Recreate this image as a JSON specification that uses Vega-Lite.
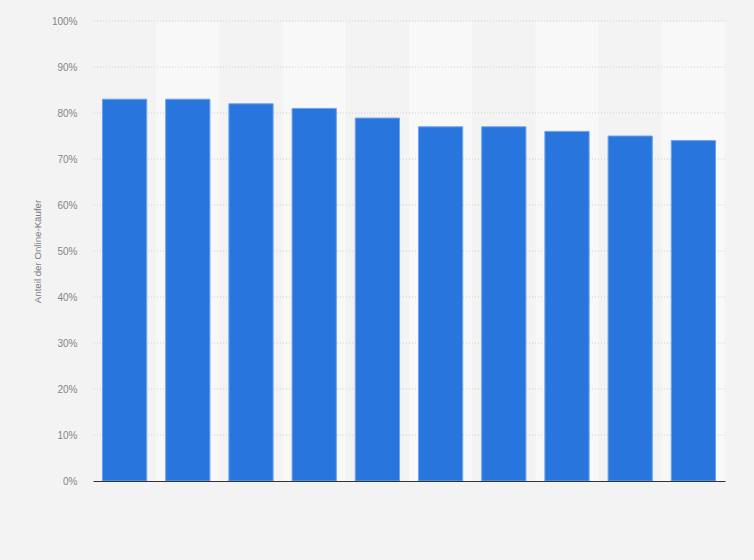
{
  "$schema": "https://vega.github.io/schema/vega-lite/v6.json",
  "width": 632,
  "height": 460,
  "autosize": "none",
  "padding": {"left": 93, "top": 21, "right": 29, "bottom": 79},
  "background": "#f3f3f3",
  "config": {"view": {"stroke": null}, "font": "Liberation Sans"},
  "datasets": {
    "bars": [
      {"k": "1", "anteil": 0.83},
      {"k": "2", "anteil": 0.83},
      {"k": "3", "anteil": 0.82},
      {"k": "4", "anteil": 0.81},
      {"k": "5", "anteil": 0.789},
      {"k": "6", "anteil": 0.77},
      {"k": "7", "anteil": 0.77},
      {"k": "8", "anteil": 0.76},
      {"k": "9", "anteil": 0.75},
      {"k": "10", "anteil": 0.74}
    ],
    "grid": [
      {"v": 0.1}, {"v": 0.2}, {"v": 0.3}, {"v": 0.4}, {"v": 0.5},
      {"v": 0.6}, {"v": 0.7}, {"v": 0.8}, {"v": 0.9}, {"v": 1.0}
    ]
  },
  "layer": [
    {
      "data": {"name": "bars"},
      "mark": {"type": "rect"},
      "encoding": {
        "x": {
          "field": "k", "type": "nominal", "sort": null,
          "scale": {"type": "band", "paddingInner": 0, "paddingOuter": 0},
          "axis": null
        },
        "y": {"datum": 1, "type": "quantitative"},
        "y2": {"datum": 0},
        "color": {
          "condition": {"test": "indexof(['2','4','6','8','10'], datum.k) >= 0", "value": "#f8f8f8"},
          "value": "#f3f3f3"
        }
      }
    },
    {
      "data": {"name": "grid"},
      "mark": {"type": "rule", "color": "#cfcfcf", "strokeDash": [1, 2], "strokeWidth": 1},
      "encoding": {
        "y": {"field": "v", "type": "quantitative"}
      }
    },
    {
      "data": {"name": "bars"},
      "mark": {"type": "bar", "color": "#2876dd", "stroke": "#6ea2ec", "strokeWidth": 1},
      "encoding": {
        "x": {
          "field": "k", "type": "nominal", "sort": null,
          "scale": {"paddingInner": 0.3, "paddingOuter": 0.15},
          "axis": {"labels": false, "ticks": false, "title": null, "domainColor": "#333333", "domainWidth": 1, "zindex": 1}
        },
        "y": {
          "field": "anteil", "type": "quantitative",
          "scale": {"domain": [0, 1], "nice": false},
          "axis": {
            "format": ".0%", "values": [0, 0.1, 0.2, 0.3, 0.4, 0.5, 0.6, 0.7, 0.8, 0.9, 1],
            "grid": false, "domain": false, "ticks": false,
            "labelPadding": 16, "labelFontSize": 10, "labelColor": "#858585",
            "title": "Anteil der Online-Käufer", "titleFontSize": 9.7, "titleFontWeight": "normal",
            "titleColor": "#7a7a7a", "titlePadding": 9
          }
        }
      }
    }
  ],
  "resolve": {"scale": {"x": "independent"}}
}
